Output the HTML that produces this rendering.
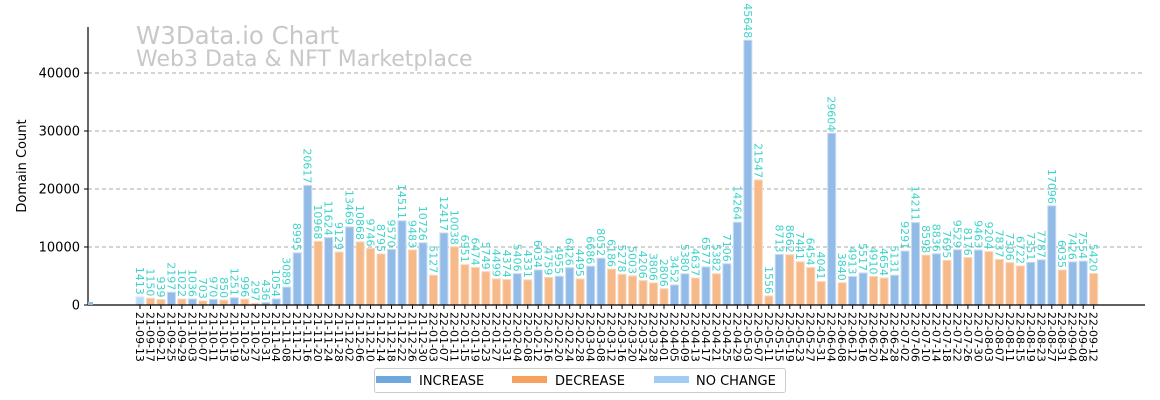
<!DOCTYPE html>
<html><head><meta charset="utf-8">
<style>
html,body{margin:0;padding:0;background:#fff;}
svg{display:block;font-family:"DejaVu Sans","Liberation Sans",sans-serif;}
</style></head>
<body>
<svg id="chart" width="1160" height="400" viewBox="0 0 1160 400">
  <text x="136" y="44" font-size="24.5" fill="#c8c8c8">W3Data.io Chart</text>
  <text x="136" y="66" font-size="22" fill="#c8c8c8">Web3 Data &amp; NFT Marketplace</text>
  <g id="grid"></g>
  <g id="bars"></g>
  <g id="vals"></g>
  <line x1="88" y1="27" x2="88" y2="305" stroke="#000" stroke-width="1.2"/>
  <line x1="88" y1="305" x2="1145" y2="305" stroke="#000" stroke-width="1.2"/>
  <g id="yticks"></g>
  <g id="xticks"></g>
  <text transform="translate(26,166) rotate(-90)" text-anchor="middle" font-size="13" fill="#000">Domain Count</text>
  <g>
    <rect x="374.5" y="368.5" width="411" height="24" rx="2" fill="#fff" stroke="#ccc"/>
    <rect x="376" y="376" width="35" height="7" fill="#6fa8dc"/>
    <text x="419" y="385" font-size="13">INCREASE</text>
    <rect x="512" y="376" width="35" height="7" fill="#f6a15f"/>
    <text x="555" y="385" font-size="13">DECREASE</text>
    <rect x="654" y="376" width="35" height="7" fill="#9fcdf6"/>
    <text x="696" y="385" font-size="13">NO CHANGE</text>
  </g>
  <rect x="88" y="302" width="5" height="3" fill="#92bbe8"/>
</svg>
<script>
const values = [1413,1150,939,2197,1022,1036,703,970,850,1251,996,297,436,1054,3089,8995,20617,10968,11624,9129,13469,10868,9746,8795,9570,14511,9483,10726,5127,12417,10038,6951,6474,5749,4499,4374,5406,4331,6034,4759,4955,6426,4495,6686,8052,6186,5278,5003,4206,3806,2806,3452,5380,4637,6577,5382,7106,14264,45648,21547,1556,8713,8662,7441,6454,4041,29604,3840,4913,5517,4910,4654,5131,9291,14211,8598,8836,7695,9529,8176,9463,9204,7837,7306,6722,7351,7787,17096,6035,7426,7554,5420];
const startDate = "2021-09-13";
const dayStep = 4;
const yTicks = [0,10000,20000,30000,40000];

const NS="http://www.w3.org/2000/svg";
function el(tag,attrs,parent){const e=document.createElementNS(NS,tag);for(const k in attrs)e.setAttribute(k,attrs[k]);parent.appendChild(e);return e;}
const x0=140, step=10.48, yBase=305, pxPer=58/10000;
const xs=i=>x0+i*step;
const ys=v=>yBase-v*pxPer;

const categories=values.map((v,i)=>{const d=new Date(startDate+"T00:00:00Z");d.setUTCDate(d.getUTCDate()+i*dayStep);
  const p=n=>String(n).padStart(2,'0');return p(d.getUTCFullYear()%100)+"-"+p(d.getUTCMonth()+1)+"-"+p(d.getUTCDate());});

const grid=document.getElementById('grid'), yt=document.getElementById('yticks');
yTicks.forEach(t=>{
  const y=ys(t);
  if(t>0){const g=el('line',{x1:88,x2:1145,y1:y,y2:y,stroke:'#aaa','stroke-dasharray':'4,3','stroke-width':1},grid);
  
  }
  const tk=el('line',{x1:84,x2:88,y1:y,y2:y,stroke:'#000'},yt);
  
  
  const tx=el('text',{x:80,y:y+4.5,'text-anchor':'end','font-size':13},yt);
  
  
  tx.textContent=t;
});

const bars=document.getElementById('bars'), vals=document.getElementById('vals'), xt=document.getElementById('xticks');
values.forEach((v,i)=>{
  const prev=i>0?values[i-1]:v;
  let fill='#92bbe8',stroke='#c6dbf3';
  if(i===0){fill='#b9dcf8';stroke='#dcecfb';}
  else if(v<prev){fill='#f5b98a';stroke='#fad7bb';}
  const x=xs(i), y=ys(v);
  const r=el('rect',{x:x-4,y:y,width:8,height:yBase-y,fill:fill,stroke:stroke,'stroke-width':1},bars);
  
  
  const t=el('text',{transform:`translate(${x-4},${y-2}) rotate(90)`,'text-anchor':'end','font-size':11,fill:'#3fd3c9'},vals);
  
  
  t.textContent=v;
  const tk=el('line',{x1:x,x2:x,y1:305,y2:309,stroke:'#000'},xt);
  
  
  const lb=el('text',{transform:`translate(${x-4},312) rotate(90)`,'font-size':11,fill:'#000'},xt);
  
  
  lb.textContent=categories[i];
});
</script>
</body></html>
